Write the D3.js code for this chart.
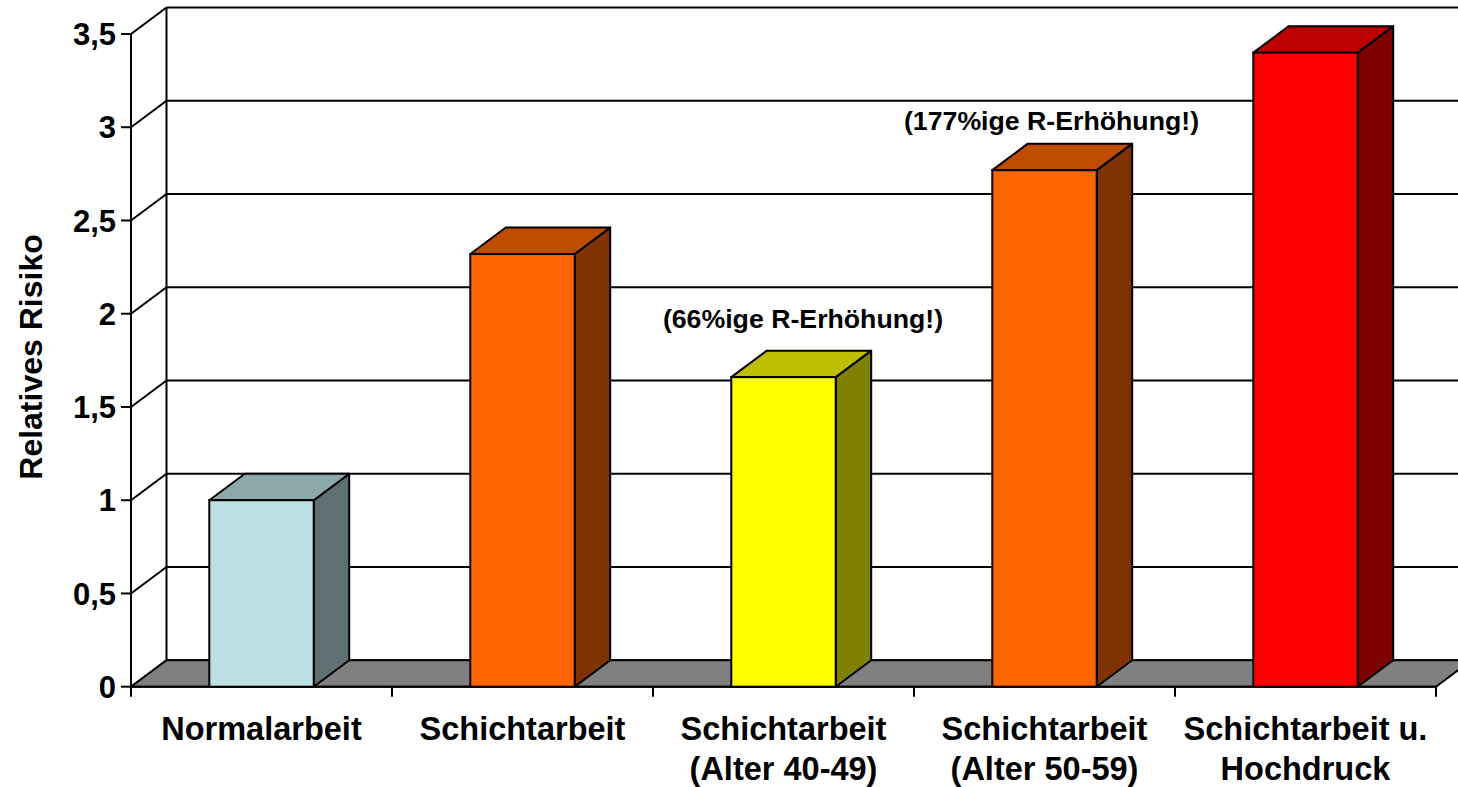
<!DOCTYPE html>
<html>
<head>
<meta charset="utf-8">
<script src="https://cdn.jsdelivr.net/npm/d3@7/dist/d3.min.js"></script>
<style>
  html, body { margin: 0; padding: 0; background: #ffffff; }
  svg { display: block; }
  text { font-family: "Liberation Sans", Arial, sans-serif; font-weight: bold; fill: #000; }
</style>
</head>
<body>
<svg id="chart" width="1458" height="787"></svg>
<script>
// ---- Data ----
const categories = [
  ["Normalarbeit"],
  ["Schichtarbeit"],
  ["Schichtarbeit", "(Alter 40-49)"],
  ["Schichtarbeit", "(Alter 50-59)"],
  ["Schichtarbeit u.", "Hochdruck"]
];
const values = [1.0, 2.32, 1.66, 2.77, 3.40];
const barColors = ["#BBE0E3", "#FF6600", "#FFFF00", "#FF6600", "#FF0000"];
const yTicks = [0, 0.5, 1, 1.5, 2, 2.5, 3, 3.5];
const yTickLabels = ["0", "0,5", "1", "1,5", "2", "2,5", "3", "3,5"];
const yTitle = "Relatives Risiko";
const annotationCats = [2, 3];
const annotationValues = [1.66, 2.77];
const annotationTexts = ["(66%ige R-Erhöhung!)", "(177%ige R-Erhöhung!)"];

// ---- Layout ----
const annotationOffsets = [{ dx: 19.5, dy: -49 }, { dx: 7, dy: -40 }];
const svg = d3.select("#chart");
const x0 = 131, x1 = 1436;      // front plane x range
const yBottom = 686.7, yTop = 34; // front plane y range
const DX = 35.5, DY = -26.5;    // depth offset

const x = d3.scaleBand().domain(d3.range(categories.length)).range([x0, x1])
  .paddingInner(0.6).paddingOuter(0.3);
const y = d3.scaleLinear().domain([0, 3.5]).range([yBottom, yTop]);
const step = (x1 - x0) / categories.length;

const shade = (c, k) => {
  const r = d3.rgb(c);
  return d3.rgb(r.r * k, r.g * k, r.b * k).formatHex();
};

// Back wall gridlines
const g = svg.append("g");
g.selectAll("line.grid").data(yTicks).enter().append("line")
  .attr("x1", x0 + DX).attr("x2", x1 + DX + 40)
  .attr("y1", d => y(d) + DY).attr("y2", d => y(d) + DY)
  .attr("stroke", "#000").attr("stroke-width", 2);

// Back wall left edge
g.append("line")
  .attr("x1", x0 + DX).attr("x2", x0 + DX)
  .attr("y1", y(3.5) + DY).attr("y2", y(0) + DY)
  .attr("stroke", "#000").attr("stroke-width", 2);

// Left wall diagonals
g.selectAll("line.diag").data(yTicks).enter().append("line")
  .attr("x1", x0).attr("x2", x0 + DX)
  .attr("y1", d => y(d)).attr("y2", d => y(d) + DY)
  .attr("stroke", "#000").attr("stroke-width", 2);

// Floor
g.append("path")
  .attr("d", `M${x0},${y(0)} L${x1},${y(0)} L${x1 + DX},${y(0) + DY} L${x0 + DX},${y(0) + DY} Z`)
  .attr("fill", "#808080").attr("stroke", "#000").attr("stroke-width", 2)
  .attr("stroke-linejoin", "round");

// Y axis line and ticks
g.append("line")
  .attr("x1", x0).attr("x2", x0).attr("y1", y(3.5)).attr("y2", y(0))
  .attr("stroke", "#000").attr("stroke-width", 2);
g.selectAll("line.ytick").data(yTicks).enter().append("line")
  .attr("x1", x0 - 10).attr("x2", x0)
  .attr("y1", d => y(d)).attr("y2", d => y(d))
  .attr("stroke", "#000").attr("stroke-width", 2);
g.selectAll("text.ylab").data(yTicks).enter().append("text")
  .attr("x", x0 - 15).attr("y", d => y(d))
  .attr("dy", "0.36em")
  .attr("text-anchor", "end")
  .style("font-size", "31px")
  .text((d, i) => yTickLabels[i]);

// X axis line & category ticks
g.append("line")
  .attr("x1", x0).attr("x2", x1).attr("y1", y(0)).attr("y2", y(0))
  .attr("stroke", "#000").attr("stroke-width", 2);
g.selectAll("line.xtick").data(d3.range(categories.length + 1)).enter().append("line")
  .attr("x1", d => x0 + d * step).attr("x2", d => x0 + d * step)
  .attr("y1", y(0)).attr("y2", y(0) + 10)
  .attr("stroke", "#000").attr("stroke-width", 2);

// Bars
const bars = svg.append("g").selectAll("g.bar").data(values).enter().append("g");
bars.each(function(v, i) {
  const gb = d3.select(this);
  const bx = x(i), bw = x.bandwidth();
  const yt = y(v), yb = y(0);
  const col = barColors[i];
  gb.append("path")
    .attr("d", `M${bx + bw},${yb} L${bx + bw + DX},${yb + DY} L${bx + bw + DX},${yt + DY} L${bx + bw},${yt} Z`)
    .attr("fill", shade(col, 0.5)).attr("stroke", "#000").attr("stroke-width", 2).attr("stroke-linejoin", "round");
  gb.append("path")
    .attr("d", `M${bx},${yt} L${bx + DX},${yt + DY} L${bx + bw + DX},${yt + DY} L${bx + bw},${yt} Z`)
    .attr("fill", shade(col, 0.75)).attr("stroke", "#000").attr("stroke-width", 2).attr("stroke-linejoin", "round");
  gb.append("rect")
    .attr("x", bx).attr("y", yt).attr("width", bw).attr("height", yb - yt)
    .attr("fill", col).attr("stroke", "#000").attr("stroke-width", 2);
});

// Category labels
const labels = svg.append("g").selectAll("text.xlab").data(categories).enter().append("text")
  .attr("text-anchor", "middle")
  .style("font-size", "32.5px")
  .attr("x", (d, i) => x(i) + x.bandwidth() / 2)
  .attr("y", 740);
labels.selectAll("tspan").data(d => d).enter().append("tspan")
  .attr("x", function() { return d3.select(this.parentNode).attr("x"); })
  .attr("dy", (d, i) => i === 0 ? 0 : 40)
  .text(d => d);

// Annotations
svg.append("g").selectAll("text.ann").data(annotationTexts).enter().append("text")
  .attr("text-anchor", "middle")
  .style("font-size", "26.7px")
  .attr("x", (d, i) => x(annotationCats[i]) + x.bandwidth() / 2 + annotationOffsets[i].dx)
  .attr("y", (d, i) => y(annotationValues[i]) + annotationOffsets[i].dy)
  .text(d => d);

// Y title
svg.append("text")
  .attr("transform", `translate(42,357) rotate(-90)`)
  .attr("text-anchor", "middle")
  .style("font-size", "32px")
  .text(yTitle);
</script>
</body>
</html>
